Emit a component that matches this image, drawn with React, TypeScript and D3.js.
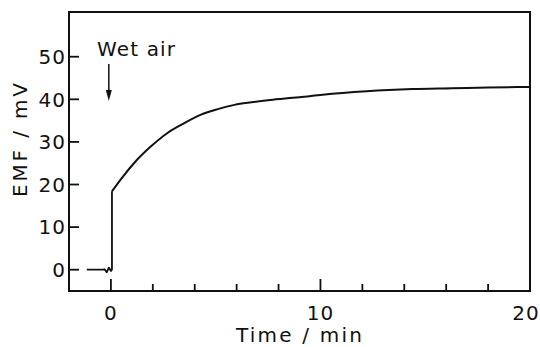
import React from 'react'
import * as d3 from 'd3'

// baseline before wet air is introduced (incl. small wiggle and jump)
const baseTime = [-1.15, -0.4, -0.3, -0.2, -0.1, 0.0, 0.05, 0.05]
const baseEmf = [0, 0, 0.1, -0.6, 0.5, -0.3, 0, 18.4]

// response after wet air
const riseTime = [0.05, 0.5, 1.1, 1.9, 2.7, 3.5, 4.3, 5.1, 5.9, 6.7, 7.5, 8.1, 9.0, 10.1, 12.2, 14.4, 16.3, 18.0, 20.0]
const riseEmf = [18.4, 21.4, 25.0, 28.9, 32.1, 34.4, 36.4, 37.7, 38.7, 39.3, 39.8, 40.1, 40.5, 41.1, 41.9, 42.4, 42.6, 42.8, 42.9]

const yTicks = [0, 10, 20, 30, 40, 50]
const xMajor = [0, 10, 20]
const xMinor = [2, 4, 6, 8, 12, 14, 16, 18]

const width = 540, height = 347
const m = {top:12, right:10, bottom:56, left:69}
const font = "'DejaVu Sans', sans-serif"
const ink = '#111'

export default function App(){
  const x = d3.scaleLinear().domain([-2, 20]).range([m.left, width - m.right])
  const y = d3.scaleLinear().domain([-5, 60.5]).range([height - m.bottom, m.top])

  const base = baseTime.map((t,i)=>[t, baseEmf[i]] as [number, number])
  const rise = riseTime.map((t,i)=>[t, riseEmf[i]] as [number, number])
  const lineLin = d3.line<[number, number]>().x(d=>x(d[0])).y(d=>y(d[1])).curve(d3.curveLinear)
  const lineSmooth = d3.line<[number, number]>().x(d=>x(d[0])).y(d=>y(d[1])).curve(d3.curveMonotoneX)

  const x0 = x(-2), yb = y(-5)
  const ax = x(-0.1)

  return (
    <svg width={width} height={height} style={{position:'absolute', left:0, top:0, background:'#fff'}}>
      {/* frame */}
      <rect x={x0} y={y(60.5)} width={x(20) - x0} height={yb - y(60.5)}
        fill="none" stroke={ink} strokeWidth={2} />

      {/* ticks (inward) */}
      {yTicks.map(d=>(
        <rect key={'ty'+d} x={x0} y={y(d) - 0.9} width={10} height={1.8} fill={ink} />
      ))}
      {xMajor.map(d=>(
        <rect key={'tx'+d} x={x(d) - 0.9} y={yb - 12} width={1.8} height={12} fill={ink} />
      ))}
      {xMinor.map(d=>(
        <rect key={'tn'+d} x={x(d) - 0.9} y={yb - 7} width={1.8} height={7} fill={ink} />
      ))}

      {yTicks.map(d=>(
        <text key={'y'+d} x={x0 - 3} y={y(d)} dy="0.36em" textAnchor="end" fontFamily={font}
          fontSize={20} letterSpacing={1} fill={ink}>{d}</text>
      ))}
      {xMajor.map(d=>(
        <text key={'x'+d} x={x(d) - (d === 20 ? 4 : 0)} y={320} textAnchor="middle" fontFamily={font}
          fontSize={20} letterSpacing={1} fill={ink}>{d}</text>
      ))}

      {/* axis titles */}
      <text x={299} y={342} textAnchor="middle" fontFamily={font} fontSize={20}
        textLength={126} lengthAdjust="spacing" fill={ink}>Time / min</text>
      <text transform="translate(27,140) rotate(-90)" textAnchor="middle" fontFamily={font}
        fontSize={20} textLength={114} lengthAdjust="spacing" fill={ink}>EMF / mV</text>

      {/* curves */}
      <path d={lineLin(base) ?? ''} fill="none" stroke={ink} strokeWidth={1.8} strokeLinejoin="round" />
      <path d={lineSmooth(rise) ?? ''} fill="none" stroke={ink} strokeWidth={2} />

      {/* annotation */}
      <text x={97} y={56} fontFamily={font} fontSize={20} textLength={78}
        lengthAdjust="spacing" fill={ink}>Wet air</text>
      <path d={`M${ax},64V92`} fill="none" stroke={ink} strokeWidth={1.5} />
      <path d={`M${ax-3},90 L${ax+3},90 L${ax},101 Z`} fill={ink} />
    </svg>
  )
}
